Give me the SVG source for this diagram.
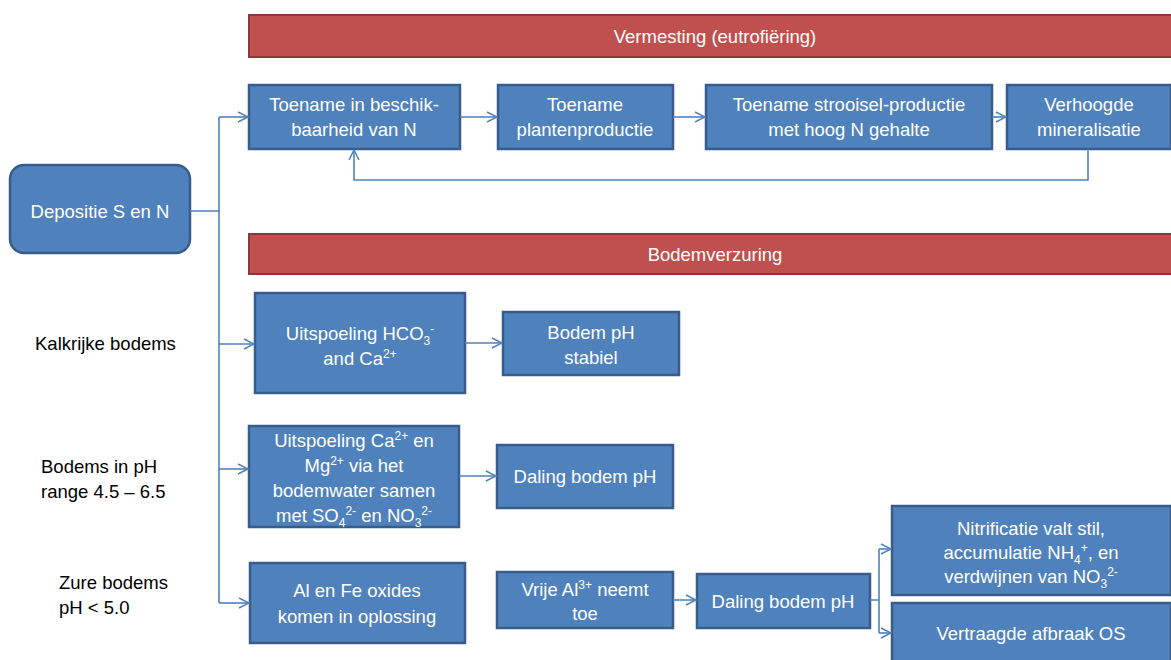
<svg xmlns="http://www.w3.org/2000/svg" width="1171" height="660" viewBox="0 0 1171 660">
<defs>
<marker id="arr" viewBox="0 0 12 12" refX="11" refY="6" markerWidth="12" markerHeight="12" markerUnits="userSpaceOnUse" orient="auto">
<path d="M1,1 L11,6 L1,11" fill="none" stroke="#4F81BD" stroke-width="1.5"/>
</marker>
</defs>
<style>
.box{fill:#4F81BD;stroke:#385D8A;stroke-width:2.5}
.bar{fill:#C0504D;stroke:#8C3836;stroke-width:2}
.t{font-family:"Liberation Sans",Arial,sans-serif;font-size:18.5px;fill:#fff;text-anchor:middle}
.l{font-family:"Liberation Sans",Arial,sans-serif;font-size:18.5px;fill:#000}
.s{font-size:12px}
.c{fill:none;stroke:#4F81BD;stroke-width:1.6}
.ca{fill:none;stroke:#4F81BD;stroke-width:1.6;marker-end:url(#arr)}
</style>
<rect width="1171" height="660" fill="#fff"/>
<g id="bar-vermesting"><rect class="bar" x="249" y="15" width="924" height="42"/><text class="t" x="715" y="43">Vermesting (eutrofiëring)</text></g>
<g id="bar-bodemverzuring"><rect class="bar" x="249" y="234" width="924" height="40"/><text class="t" x="715" y="261">Bodemverzuring</text></g>
<g id="depositie"><rect class="box" x="10" y="165" width="180" height="88" rx="14"/><text class="t" x="100" y="218">Depositie S en N</text></g>
<g id="n1"><rect class="box" x="249" y="85" width="211" height="64"/><text class="t" x="354" y="111">Toename in beschik-</text><text class="t" x="354" y="136">baarheid van N</text></g>
<g id="n2"><rect class="box" x="498" y="85" width="175" height="64"/><text class="t" x="585" y="111">Toename</text><text class="t" x="585" y="136">plantenproductie</text></g>
<g id="n3"><rect class="box" x="706" y="85" width="286" height="64"/><text class="t" x="849" y="111">Toename strooisel-productie</text><text class="t" x="849" y="136">met hoog N gehalte</text></g>
<g id="n4"><rect class="box" x="1007" y="85" width="164" height="64"/><text class="t" x="1089" y="111">Verhoogde</text><text class="t" x="1089" y="136">mineralisatie</text></g>
<g id="k1"><rect class="box" x="255" y="293" width="210" height="100"/><text class="t" x="360" y="340">Uitspoeling HCO<tspan class="s" dy="5">3</tspan><tspan class="s" dy="-12">-</tspan></text><text class="t" x="360" y="365">and Ca<tspan class="s" dy="-7">2+</tspan></text></g>
<g id="k2"><rect class="box" x="503" y="312" width="176" height="63"/><text class="t" x="591" y="339">Bodem pH</text><text class="t" x="591" y="364">stabiel</text></g>
<g id="p1"><rect class="box" x="249" y="426" width="210" height="101"/><text class="t" x="354" y="447">Uitspoeling Ca<tspan class="s" dy="-7">2+</tspan><tspan dy="7"> en</tspan></text><text class="t" x="354" y="472">Mg<tspan class="s" dy="-7">2+</tspan><tspan dy="7"> via het</tspan></text><text class="t" x="354" y="497">bodemwater samen</text><text class="t" x="354" y="522">met SO<tspan class="s" dy="5">4</tspan><tspan class="s" dy="-12">2-</tspan><tspan dy="7"> en NO</tspan><tspan class="s" dy="5">3</tspan><tspan class="s" dy="-12">2-</tspan></text></g>
<g id="p2"><rect class="box" x="497" y="445" width="176" height="63"/><text class="t" x="585" y="483">Daling bodem pH</text></g>
<g id="z1"><rect class="box" x="250" y="563" width="215" height="80"/><text class="t" x="357" y="597">Al en Fe oxides</text><text class="t" x="357" y="623">komen in oplossing</text></g>
<g id="z2"><rect class="box" x="497" y="572" width="176" height="56"/><text class="t" x="585" y="596">Vrije Al<tspan class="s" dy="-7">3+</tspan><tspan dy="7"> neemt</tspan></text><text class="t" x="585" y="620">toe</text></g>
<g id="z3"><rect class="box" x="697" y="574" width="173" height="54"/><text class="t" x="783" y="608">Daling bodem pH</text></g>
<g id="z4"><rect class="box" x="892" y="506" width="279" height="89"/><text class="t" x="1031" y="535">Nitrificatie valt stil,</text><text class="t" x="1031" y="559">accumulatie NH<tspan class="s" dy="5">4</tspan><tspan class="s" dy="-12">+</tspan><tspan dy="7">, en</tspan></text><text class="t" x="1031" y="583">verdwijnen van NO<tspan class="s" dy="5">3</tspan><tspan class="s" dy="-12">2-</tspan></text></g>
<g id="z5"><rect class="box" x="892" y="603" width="279" height="60"/><text class="t" x="1031" y="640">Vertraagde afbraak OS</text></g>
<g id="labels">
<text class="l" x="35" y="350">Kalkrijke bodems</text>
<text class="l" x="41" y="473">Bodems in pH</text>
<text class="l" x="41" y="498">range 4.5 – 6.5</text>
<text class="l" x="59" y="589">Zure bodems</text>
<text class="l" x="59" y="614">pH &lt; 5.0</text>
</g>
<g id="connectors">
<path class="c" d="M190,211 H219 M219,117 V603"/>
<path class="ca" d="M219,117 H248"/>
<path class="ca" d="M219,344 H254"/>
<path class="ca" d="M219,469 H248"/>
<path class="ca" d="M219,603 H249"/>
<path class="ca" d="M460,117 H497"/>
<path class="ca" d="M673,117 H705"/>
<path class="ca" d="M992,117 H1006"/>
<path class="ca" d="M1088,149 V180 H354 V150"/>
<path class="ca" d="M465,343 H502"/>
<path class="ca" d="M459,476 H496"/>
<path class="ca" d="M673,600 H696"/>
<path class="c" d="M870,600 H879 M879,549 V633"/>
<path class="ca" d="M879,549 H891"/>
<path class="ca" d="M879,633 H891"/>
</g>
</svg>
